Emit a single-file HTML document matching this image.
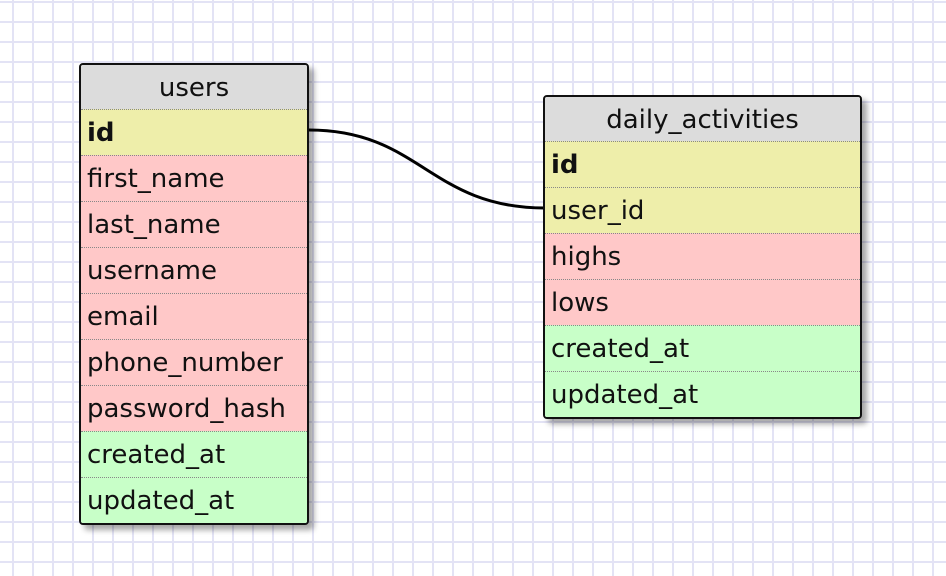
<!DOCTYPE html>
<html><head><style>
body{margin:0;width:946px;height:576px;overflow:hidden;background:#fff;
background-image:linear-gradient(90deg,#e3e3f5 2px,transparent 2px),linear-gradient(#e3e3f5 2px,transparent 2px);
background-size:20px 20px;background-position:12px 1px;font-family:"DejaVu Sans","Liberation Sans",sans-serif;}
.t{position:absolute;border:2px solid #111;border-radius:4px;box-shadow:5px 5px 6px rgba(0,0,0,0.35);overflow:hidden;background:#ddd}
.h{height:44px;line-height:46px;text-align:center;font-size:26px;color:#111;background:#dcdcdc}
.r{height:45px;border-top:1px dotted #888;font-size:26px;line-height:47px;padding-left:6px;color:#111;box-sizing:content-box}
.y{background:#eeeeaa}.p{background:#ffc8c8}.g{background:#c8ffc8}
b{font-weight:bold}
</style></head><body>
<svg width="946" height="576" style="position:absolute;left:0;top:0">
<path d="M309 130 C 420 130, 430 208, 545 208" stroke="#000" stroke-width="3" fill="none"/>
</svg>
<div class="t" style="left:79px;top:63px;width:226px">
<div class="h">users</div>
<div class="r y"><b>id</b></div>
<div class="r p">first_name</div>
<div class="r p">last_name</div>
<div class="r p">username</div>
<div class="r p">email</div>
<div class="r p">phone_number</div>
<div class="r p">password_hash</div>
<div class="r g">created_at</div>
<div class="r g">updated_at</div>
</div>
<div class="t" style="left:543px;top:95px;width:315px">
<div class="h">daily_activities</div>
<div class="r y"><b>id</b></div>
<div class="r y">user_id</div>
<div class="r p">highs</div>
<div class="r p">lows</div>
<div class="r g">created_at</div>
<div class="r g">updated_at</div>
</div>
</body></html>
